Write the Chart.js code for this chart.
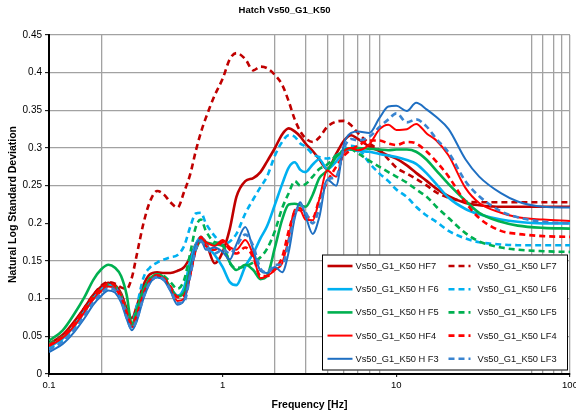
<!DOCTYPE html>
<html>
<head>
<meta charset="utf-8">
<script src="https://cdn.jsdelivr.net/npm/chart.js@4.4.1/dist/chart.umd.min.js"></script>
<style>
  html, body { margin: 0; padding: 0; background: #fff; overflow: hidden; }
  #wrap { width: 590px; height: 414px; }
</style>
</head>
<body>
<div id="wrap"><canvas id="c" width="590" height="414"></canvas></div>
<script>
// ---- text ----
const chartTitle = 'Hatch Vs50_G1_K50';
const xTitle = 'Frequency [Hz]';
const yTitle = 'Natural Log Standard Deviation';

// ---- axes ----
const xTickValues = [0.1, 0.2, 1, 2, 3, 4, 5, 6, 7, 8, 10, 60, 70, 80, 90, 100];
const xTickLabels = { 0.1: '0.1', 1: '1', 10: '10', 100: '100' };
const xGridValues = [0.2, 2, 3, 4, 5, 6, 7, 8, 60, 70, 80, 90, 100];
const yGridValues = [0.05, 0.1, 0.15, 0.25, 0.3, 0.35, 0.4, 0.45];

// ---- data: frequency [Hz] and ln standard deviation per series ----
const frequencies = [0.1, 0.12, 0.14, 0.16, 0.18, 0.2, 0.22, 0.24, 0.26, 0.28, 0.3,
  0.32, 0.35, 0.38, 0.42, 0.46, 0.5, 0.55, 0.6, 0.65, 0.7, 0.75, 0.8, 0.9,
  1.0, 1.1, 1.2, 1.35, 1.5, 1.65, 1.8,
  2.0, 2.2, 2.4, 2.6, 2.8, 3.0, 3.3, 3.6,
  4.0, 4.5, 5, 5.5, 6, 7, 8, 9,
  10, 11.5, 13, 15, 17, 20, 25, 30, 40, 50, 70, 100];

const hf7 = [0.040, 0.052, 0.070, 0.088, 0.105, 0.116, 0.121, 0.118, 0.107, 0.087, 0.074,
  0.090, 0.118, 0.132, 0.135, 0.134, 0.134, 0.137, 0.142, 0.155, 0.172, 0.180, 0.175, 0.147,
  0.162, 0.193, 0.235, 0.256, 0.260, 0.268, 0.282,
  0.300, 0.318, 0.326, 0.322, 0.315, 0.306, 0.296, 0.285,
  0.272, 0.292, 0.310, 0.317, 0.312, 0.302, 0.296, 0.290,
  0.286, 0.277, 0.267, 0.256, 0.246, 0.236, 0.227, 0.224, 0.222, 0.222, 0.222, 0.222];

const lf7 = [0.038, 0.050, 0.068, 0.088, 0.105, 0.117, 0.122, 0.120, 0.115, 0.113, 0.128,
  0.158, 0.200, 0.228, 0.243, 0.238, 0.228, 0.221, 0.242, 0.265, 0.296, 0.321, 0.340, 0.370,
  0.392, 0.418, 0.426, 0.418, 0.403, 0.408, 0.406,
  0.397, 0.384, 0.362, 0.338, 0.322, 0.313, 0.308, 0.314,
  0.328, 0.335, 0.336, 0.330, 0.320, 0.306, 0.297, 0.285,
  0.274, 0.266, 0.259, 0.250, 0.241, 0.234, 0.229, 0.228, 0.228, 0.228, 0.228, 0.228];

const hf6 = [0.036, 0.047, 0.064, 0.083, 0.100, 0.112, 0.118, 0.115, 0.102, 0.080, 0.063,
  0.076, 0.105, 0.122, 0.129, 0.125, 0.115, 0.104, 0.115, 0.150, 0.172, 0.182, 0.172, 0.158,
  0.142, 0.122, 0.118, 0.143, 0.160, 0.180, 0.196,
  0.225, 0.252, 0.274, 0.281, 0.271, 0.268, 0.278, 0.285,
  0.272, 0.282, 0.295, 0.298, 0.296, 0.295, 0.292, 0.290,
  0.288, 0.284, 0.279, 0.266, 0.252, 0.234, 0.219, 0.212, 0.205, 0.202, 0.200, 0.200];

const lf6 = [0.034, 0.045, 0.062, 0.082, 0.100, 0.112, 0.118, 0.116, 0.104, 0.083, 0.068,
  0.090, 0.128, 0.141, 0.148, 0.152, 0.155, 0.158, 0.170, 0.195, 0.213, 0.214, 0.200, 0.183,
  0.172, 0.176, 0.186, 0.213, 0.232, 0.248, 0.262,
  0.290, 0.308, 0.317, 0.315, 0.306, 0.302, 0.292, 0.288,
  0.286, 0.290, 0.298, 0.303, 0.300, 0.280, 0.266, 0.256,
  0.245, 0.235, 0.222, 0.210, 0.202, 0.190, 0.180, 0.175, 0.172, 0.171, 0.171, 0.171];

const hf5 = [0.044, 0.058, 0.080, 0.102, 0.125, 0.139, 0.145, 0.141, 0.130, 0.105, 0.066,
  0.085, 0.112, 0.126, 0.132, 0.128, 0.115, 0.103, 0.108, 0.140, 0.165, 0.176, 0.175, 0.172,
  0.170, 0.148, 0.138, 0.145, 0.138, 0.126, 0.130,
  0.168, 0.205, 0.225, 0.226, 0.224, 0.222, 0.238, 0.260,
  0.270, 0.288, 0.297, 0.300, 0.300, 0.299, 0.298, 0.297,
  0.298, 0.298, 0.295, 0.284, 0.270, 0.252, 0.230, 0.214, 0.202, 0.197, 0.194, 0.193];

const lf5 = [0.040, 0.050, 0.066, 0.085, 0.102, 0.113, 0.119, 0.117, 0.105, 0.083, 0.066,
  0.080, 0.110, 0.127, 0.132, 0.130, 0.122, 0.113, 0.125, 0.160, 0.195, 0.205, 0.190, 0.175,
  0.172, 0.147, 0.141, 0.143, 0.148, 0.155, 0.166,
  0.190, 0.220, 0.240, 0.256, 0.250, 0.252, 0.262, 0.272,
  0.278, 0.290, 0.297, 0.298, 0.293, 0.283, 0.275, 0.268,
  0.262, 0.254, 0.245, 0.235, 0.222, 0.207, 0.187, 0.176, 0.168, 0.165, 0.163, 0.162];

const hf4 = [0.037, 0.048, 0.064, 0.082, 0.099, 0.110, 0.116, 0.113, 0.100, 0.078, 0.062,
  0.074, 0.103, 0.122, 0.130, 0.126, 0.113, 0.097, 0.100, 0.130, 0.165, 0.180, 0.175, 0.170,
  0.178, 0.168, 0.165, 0.178, 0.158, 0.127, 0.130,
  0.138, 0.147, 0.180, 0.218, 0.217, 0.205, 0.204, 0.232,
  0.270, 0.262, 0.295, 0.300, 0.297, 0.305, 0.325, 0.331,
  0.324, 0.325, 0.332, 0.319, 0.310, 0.290, 0.247, 0.227, 0.214, 0.208, 0.205, 0.203];

const lf4 = [0.038, 0.050, 0.067, 0.086, 0.103, 0.114, 0.120, 0.117, 0.104, 0.082, 0.066,
  0.078, 0.106, 0.124, 0.131, 0.127, 0.116, 0.102, 0.104, 0.132, 0.165, 0.182, 0.170, 0.165,
  0.175, 0.165, 0.160, 0.168, 0.155, 0.130, 0.130,
  0.140, 0.155, 0.190, 0.215, 0.220, 0.210, 0.207, 0.232,
  0.255, 0.275, 0.290, 0.298, 0.303, 0.310, 0.310, 0.306,
  0.304, 0.308, 0.306, 0.295, 0.282, 0.262, 0.228, 0.207, 0.190, 0.186, 0.183, 0.182];

const hf3 = [0.029, 0.040, 0.056, 0.074, 0.092, 0.104, 0.111, 0.108, 0.095, 0.073, 0.058,
  0.070, 0.100, 0.120, 0.128, 0.124, 0.110, 0.092, 0.098, 0.135, 0.170, 0.178, 0.165, 0.168,
  0.162, 0.152, 0.172, 0.195, 0.165, 0.137, 0.134,
  0.142, 0.135, 0.162, 0.207, 0.228, 0.210, 0.186, 0.208,
  0.258, 0.250, 0.306, 0.320, 0.322, 0.320, 0.340, 0.355,
  0.356, 0.349, 0.360, 0.351, 0.341, 0.325, 0.285, 0.262, 0.240, 0.229, 0.222, 0.221];

const lf3 = [0.032, 0.043, 0.059, 0.077, 0.095, 0.107, 0.114, 0.111, 0.098, 0.075, 0.060,
  0.072, 0.102, 0.121, 0.129, 0.125, 0.112, 0.094, 0.096, 0.130, 0.165, 0.176, 0.168, 0.160,
  0.165, 0.160, 0.170, 0.185, 0.170, 0.140, 0.135,
  0.145, 0.145, 0.175, 0.210, 0.225, 0.215, 0.200, 0.220,
  0.258, 0.262, 0.300, 0.312, 0.310, 0.315, 0.328, 0.338,
  0.346, 0.334, 0.338, 0.328, 0.312, 0.294, 0.256, 0.236, 0.216, 0.208, 0.202, 0.200];

// ---- styling ----
const FONT = "'Liberation Sans', Arial, Helvetica, sans-serif";
const GRID = '#a2a2a2';
const DASH = [6, 4];

const seriesDefs = [
  { label: 'Vs50_G1_K50 HF7',  values: hf7, color: '#C00000', dash: [],   width: 2.6 },
  { label: 'Vs50_G1_K50 LF7',  values: lf7, color: '#C00000', dash: DASH, width: 2.6 },
  { label: 'Vs50_G1_K50 H F6', values: hf6, color: '#00B0F0', dash: [],   width: 2.6 },
  { label: 'Vs50_G1_K50 LF6',  values: lf6, color: '#00B0F0', dash: DASH, width: 2.6 },
  { label: 'Vs50_G1_K50 H F5', values: hf5, color: '#00B050', dash: [],   width: 2.6 },
  { label: 'Vs50_G1_K50 LF5',  values: lf5, color: '#00B050', dash: DASH, width: 2.6 },
  { label: 'Vs50_G1_K50 HF4',  values: hf4, color: '#FF0000', dash: [],   width: 2.0 },
  { label: 'Vs50_G1_K50 LF4',  values: lf4, color: '#FF0000', dash: DASH, width: 2.6 },
  { label: 'Vs50_G1_K50 H F3', values: hf3, color: '#1F6FC2', dash: [],   width: 2.0 },
  { label: 'Vs50_G1_K50 LF3',  values: lf3, color: '#3A84D0', dash: DASH, width: 2.6 }
];

const datasets = seriesDefs.map((s, i) => ({
  label: s.label,
  data: frequencies.map((f, k) => ({ x: f, y: s.values[k] })),
  borderColor: s.color,
  backgroundColor: s.color,
  borderWidth: s.width,
  borderDash: s.dash,
  pointRadius: 0,
  pointHoverRadius: 0,
  cubicInterpolationMode: 'monotone',
  fill: false,
  order: seriesDefs.length - i
}));

const near = (a, b) => Math.abs(a - b) < 1e-7 * Math.max(1, Math.abs(b));

// chart title drawn above the plot
const titlePlugin = {
  id: 'topTitle',
  afterDraw(chart) {
    const ctx = chart.ctx;
    ctx.save();
    ctx.font = 'bold 9.5px ' + FONT;
    ctx.fillStyle = '#000';
    ctx.textAlign = 'center';
    ctx.textBaseline = 'middle';
    ctx.fillText(chartTitle, 284.5, 10.5);
    ctx.restore();
  }
};

// boxed two-column legend inside the plot, lower right
const insideLegend = {
  id: 'insideLegend',
  afterDraw(chart) {
    const ctx = chart.ctx;
    const area = chart.chartArea;
    const boxR = area.right - 2, boxL = boxR - 246;
    const boxB = area.bottom - 3.5, boxT = boxB - 116;
    ctx.save();
    ctx.fillStyle = '#fff';
    ctx.fillRect(boxL, boxT, boxR - boxL, boxB - boxT);
    ctx.strokeStyle = '#000';
    ctx.lineWidth = 1;
    ctx.strokeRect(boxL + 0.5, boxT + 0.5, boxR - boxL - 1, boxB - boxT - 1);
    ctx.font = '9.3px ' + FONT;
    ctx.textBaseline = 'middle';
    ctx.textAlign = 'left';
    chart.data.datasets.forEach((ds, i) => {
      const row = Math.floor(i / 2), col = i % 2;
      const y = boxT + 11.5 + row * 23.2;
      const x0 = col === 0 ? boxL + 5.5 : boxL + 126.5;
      const x1 = col === 0 ? x0 + 25 : x0 + 22;
      ctx.strokeStyle = ds.borderColor;
      ctx.lineWidth = ds.borderWidth;
      ctx.setLineDash(ds.borderDash || []);
      ctx.beginPath();
      ctx.moveTo(x0, y);
      ctx.lineTo(x1, y);
      ctx.stroke();
      ctx.setLineDash([]);
      ctx.fillStyle = '#111';
      ctx.fillText(ds.label, col === 0 ? x1 + 3 : x1 + 7, y + 0.5);
    });
    ctx.restore();
  }
};

new Chart(document.getElementById('c'), {
  type: 'line',
  data: { datasets },
  plugins: [titlePlugin, insideLegend],
  options: {
    responsive: false,
    animation: false,
    devicePixelRatio: 1,
    layout: { padding: { left: 4, right: 20, top: 35, bottom: 0 } },
    plugins: {
      legend: { display: false },
      title: { display: false },
      tooltip: { enabled: false }
    },
    scales: {
      x: {
        type: 'logarithmic',
        min: 0.1,
        max: 100,
        afterBuildTicks(scale) {
          scale.ticks = xTickValues.map(v => ({ value: v }));
        },
        afterFit(scale) { scale.height = 40; },
        border: { display: true, color: '#000', width: 2 },
        grid: {
          color: c => (c.tick && xGridValues.some(g => near(c.tick.value, g))) ? GRID : 'rgba(0,0,0,0)',
          lineWidth: 1.3,
          drawTicks: true,
          tickLength: 3,
          tickColor: c => (c.tick && xTickLabels[c.tick.value] !== undefined) ? '#000' : 'rgba(0,0,0,0)',
          tickWidth: 1
        },
        ticks: {
          autoSkip: false,
          maxRotation: 0,
          padding: 3,
          color: '#000',
          font: { family: FONT, size: 9.5 },
          callback: v => (xTickLabels[v] !== undefined ? xTickLabels[v] : '')
        },
        title: {
          display: true,
          text: xTitle,
          color: '#000',
          font: { family: FONT, size: 10.5, weight: 'bold' },
          padding: { top: 0, bottom: 3 }
        }
      },
      y: {
        type: 'linear',
        min: 0,
        max: 0.45,
        afterFit(scale) { scale.width = 45; },
        border: { display: true, color: '#000', width: 2 },
        grid: {
          color: c => (c.tick && yGridValues.some(g => near(c.tick.value, g))) ? GRID : 'rgba(0,0,0,0)',
          lineWidth: 1.3,
          drawTicks: true,
          tickLength: 4,
          tickColor: '#000',
          tickWidth: 1
        },
        ticks: {
          stepSize: 0.05,
          padding: 3,
          color: '#000',
          font: { family: FONT, size: 10 },
          callback: v => String(Number(Number(v).toFixed(2)))
        },
        title: {
          display: true,
          text: yTitle,
          color: '#000',
          font: { family: FONT, size: 10.5, weight: 'bold' },
          padding: { top: 3, bottom: 0 }
        }
      }
    }
  }
});
</script>
</body>
</html>
